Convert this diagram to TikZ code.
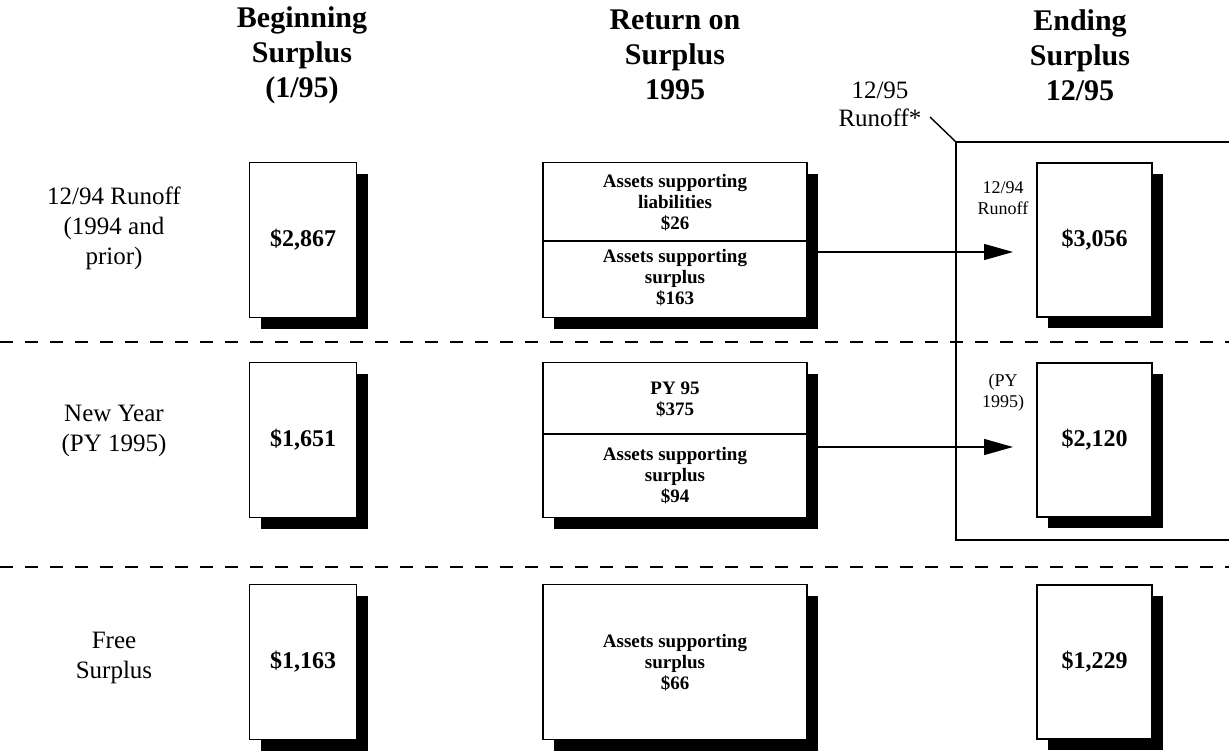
\documentclass[tikz,border=0pt]{standalone}
\usepackage{fontspec}
\setmainfont{Liberation Serif}
\usetikzlibrary{arrows.meta,shadows}
\definecolor{Ink}{HTML}{000000}

\newcommand{\headfont}{\fontsize{30}{35}\selectfont\bfseries}
\newcommand{\rowfont}{\fontsize{25}{30}\selectfont}
\newcommand{\valfont}{\fontsize{24}{28}\selectfont\bfseries}
\newcommand{\assetfont}{\fontsize{19}{21}\selectfont\bfseries}
\newcommand{\notefont}{\fontsize{18}{21}\selectfont}

\begin{document}
\begin{tikzpicture}[x=1pt, y=-1pt,
  surplusbox/.style={draw=Ink, line width=1.4pt, fill=white, inner sep=0pt,
    drop shadow={shadow xshift=11pt, shadow yshift=-11pt, fill=Ink, opacity=1}},
  begbox/.style={surplusbox, minimum width=107pt, minimum height=155pt, font=\valfont},
  endbox/.style={surplusbox, minimum width=115pt, minimum height=154pt, font=\valfont},
  retbox/.style={surplusbox, minimum width=264pt, minimum height=155pt},
  assets/.style={font=\assetfont, align=center, inner sep=0pt},
  flow/.style={-{Triangle[length=29pt, width=16pt]}, line width=1.4pt, Ink},
  rowrule/.style={dash pattern=on 13pt off 12pt, line width=1.4pt, Ink}]

  \useasboundingbox (0,0) rectangle (1229,752);

  % ===== HEADINGS =====
  \node[font=\headfont, align=center] (hdBeg) at (302,55) {Beginning\\Surplus\\(1/95)};
  \node[font=\headfont, align=center] (hdRet) at (675,55) {Return on\\Surplus\\1995};
  \node[font=\headfont, align=center] (hdEnd) at (1080,55) {Ending\\Surplus\\12/95};

  % ===== ROW LABELS =====
  \node[font=\rowfont, align=center] (rowRun) at (114,228) {12/94 Runoff\\(1994 and\\prior)};
  \node[font=\rowfont, align=center] (rowNew) at (114,431) {New Year\\(PY 1995)};
  \node[font=\rowfont, align=center] (rowFree) at (114,658) {Free\\Surplus};

  % ===== ROW SEPARATORS =====
  \foreach \y in {342,567}
    \draw[rowrule] (0,\y) -- (1229,\y);

  % ===== 12/95 RUNOFF BRACKET =====
  \coordinate (brTL) at (956,142);
  \draw[line width=1.4pt, Ink] (1229,142) -- (brTL) -- (956,540) -- (1229,540);
  \node[font=\fontsize{25}{28}\selectfont, align=center] (lblRun95) at (880,104) {12/95\\Runoff*};
  \coordinate (lead) at (930,117);
  \draw[line width=1.4pt, Ink] (lead) -- (brTL);

  % ===== BEGINNING SURPLUS =====
  \node[begbox] (beg1) at (303,240) {\$2,867};
  \node[begbox] (beg2) at (303,440) {\$1,651};
  \node[begbox] (beg3) at (303,662) {\$1,163};

  % ===== RETURN ON SURPLUS =====
  \node[retbox] (ret1) at (675,240) {};
  \draw[line width=1.4pt, Ink] (ret1.west |- 0,241) -- (ret1.east |- 0,241);
  \node[assets] (ret1top) at (675,203) {Assets supporting\\liabilities\\\$26};
  \node[assets] (ret1bot) at (675,278) {Assets supporting\\surplus\\\$163};

  \node[retbox] (ret2) at (675,440) {};
  \draw[line width=1.4pt, Ink] (ret2.west |- 0,434) -- (ret2.east |- 0,434);
  \node[assets] (ret2top) at (675,399) {PY 95\\\$375};
  \node[assets] (ret2bot) at (675,476) {Assets supporting\\surplus\\\$94};

  \node[retbox] (ret3) at (675,662) {};
  \node[assets] (ret3txt) at (675,663) {Assets supporting\\surplus\\\$66};

  % ===== ENDING SURPLUS =====
  \node[endbox] (end1) at (1094.5,240) {\$3,056};
  \node[endbox] (end2) at (1094.5,440) {\$2,120};
  \node[endbox] (end3) at (1094.5,662) {\$1,229};
  \node[font=\notefont, align=center] (noteRun) at (1003,198) {12/94\\Runoff};
  \node[font=\notefont, align=center] (notePY) at (1003,393) {(PY\\1995)};

  % ===== CARRY-OVER ARROWS =====
  \coordinate (out1) at (818,252);
  \coordinate (in1) at (1013,252);
  \draw[flow] (out1) -- (in1);
  \coordinate (out2) at (818,447);
  \coordinate (in2) at (1013,447);
  \draw[flow] (out2) -- (in2);

\end{tikzpicture}
\end{document}
